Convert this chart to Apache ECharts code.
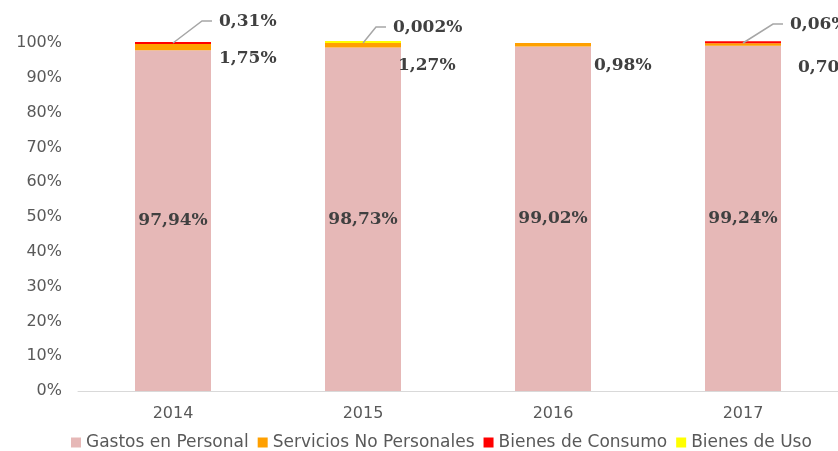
<!DOCTYPE html>
<html>
<head>
<meta charset="utf-8">
<script src="https://cdn.jsdelivr.net/npm/echarts@6/dist/echarts.min.js"></script>
<style>
  html, body { margin: 0; padding: 0; background: #fff; }
  #chart { width: 838px; height: 451px; }
</style>
</head>
<body>
<div id="chart"></div>
<script>
// años
const years = ["2014", "2015", "2016", "2017"];
// participación (%) de cada concepto
const gastosPersonal = [97.94, 98.73, 99.02, 99.24];
const serviciosNoPersonales = [1.75, 1.27, 0.98, 0.70];
const bienesConsumo = [0.31, null, null, 0.06];
const bienesUso = [null, 0.002, null, null];
const yTicks = [0, 10, 20, 30, 40, 50, 60, 70, 80, 90, 100];

const axisFont = "'DejaVu Sans', sans-serif";
const labelFont = "'DejaVu Serif', 'Liberation Serif', serif";

function pct(v) {
  if (v == null) return "";
  const s = v < 0.01 ? v.toFixed(3) : v.toFixed(2);
  return s.replace(".", ",") + "%";
}

// ajustes de posición de etiquetas (px)
const servShift = [[3, 11], [-8, 20], [-2, 21], [12, 23]];
const calloutShift = { 0: [29, -22], 1: [13, -16], 3: [30, -19] };

// etiquetas con línea guía para los valores pequeños del tope de la barra
const callouts = years.map((y, i) => {
  const v = bienesConsumo[i] != null ? bienesConsumo[i] : bienesUso[i];
  if (v == null) return null;
  const top = Math.min(100, gastosPersonal[i] + serviciosNoPersonales[i] + v);
  return [i, top, v];
}).filter(Boolean);

const chart = echarts.init(document.getElementById("chart"));
chart.setOption({
  animation: false,
  color: ["#e6b8b7", "#ffa000", "#ff0000", "#ffff00"],
  grid: { left: 78, width: 764, top: 43, bottom: 60 },
  legend: {
    top: 429,
    left: 66,
    icon: "rect",
    itemWidth: 10,
    itemHeight: 10,
    itemGap: 9,
    textStyle: { fontFamily: axisFont, fontSize: 17, color: "#595959" },
    data: ["Gastos en Personal", "Servicios No Personales", "Bienes de Consumo", "Bienes de Uso"]
  },
  xAxis: {
    type: "category",
    data: years,
    axisTick: { show: false },
    axisLine: { lineStyle: { color: "#d9d9d9" } },
    axisLabel: { fontFamily: axisFont, fontSize: 16, color: "#595959", margin: 15 }
  },
  yAxis: {
    type: "value",
    min: yTicks[0],
    max: yTicks[yTicks.length - 1],
    interval: 10,
    splitLine: { show: false },
    axisLabel: { fontFamily: axisFont, fontSize: 16, color: "#595959", margin: 16, formatter: "{value}%" }
  },
  series: [
    {
      name: "Gastos en Personal",
      type: "bar",
      stack: "total",
      clip: false,
      barCategoryGap: "60%",
      data: gastosPersonal,
      label: {
        show: true,
        position: "inside",
        fontFamily: labelFont,
        fontWeight: "bold",
        fontSize: 17,
        color: "#404040",
        formatter: (p) => pct(p.value)
      }
    },
    {
      name: "Servicios No Personales",
      type: "bar",
      stack: "total",
      clip: false,
      barMinHeight: 2,
      data: serviciosNoPersonales,
      label: {
        show: true,
        position: "right",
        fontFamily: labelFont,
        fontWeight: "bold",
        fontSize: 17,
        color: "#404040",
        formatter: (p) => pct(p.value)
      },
      labelLayout: (p) => {
        const s = servShift[p.dataIndex];
        return { dx: s[0], dy: s[1] };
      }
    },
    {
      name: "Bienes de Consumo",
      type: "bar",
      stack: "total",
      clip: false,
      barMinHeight: 2,
      data: bienesConsumo
    },
    {
      name: "Bienes de Uso",
      type: "bar",
      stack: "total",
      clip: false,
      barMinHeight: 2,
      data: bienesUso
    },
    {
      name: "callouts",
      type: "custom",
      silent: true,
      z: 5,
      data: callouts,
      renderItem: (params, api) => {
        const i = api.value(0);
        const p0 = api.coord([i, api.value(1)]);
        const s = calloutShift[i] || [20, -20];
        const p1 = [p0[0] + s[0], p0[1] + s[1]];
        const p2 = [p1[0] + 10, p1[1]];
        return {
          type: "group",
          children: [
            {
              type: "polyline",
              shape: { points: [p0, p1, p2] },
              style: { stroke: "#a6a6a6", lineWidth: 1.5, fill: null }
            },
            {
              type: "text",
              x: p2[0] + 7,
              y: p2[1] + 1,
              style: {
                text: pct(api.value(2)),
                fill: "#404040",
                font: "bold 17px " + labelFont,
                align: "left",
                verticalAlign: "middle"
              }
            }
          ]
        };
      }
    }
  ]
});
</script>
</body>
</html>
